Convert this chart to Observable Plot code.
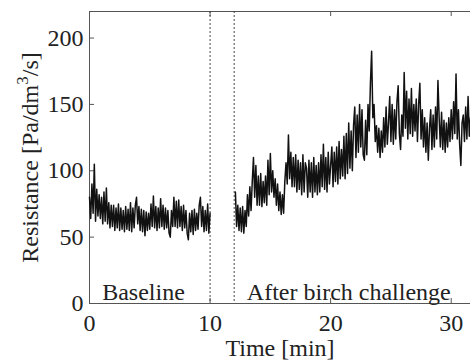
<!DOCTYPE html>
<html>
<head>
<meta charset="utf-8">
<script src="https://cdn.jsdelivr.net/npm/d3@7"></script>
<script src="https://cdn.jsdelivr.net/npm/@observablehq/plot@0.6"></script>
<style>
  html, body { margin: 0; padding: 0; background: #fff; }
  #chart { width: 470px; height: 360px; overflow: hidden; }
  #chart svg, #chart svg text { font-family: "Liberation Serif", "Times New Roman", serif !important; }
</style>
</head>
<body>
<div id="chart"></div>
<script>
// ---- data ----
const sampleStep = 0.1;            // minutes between samples
const baselineStart = 0;           // min
const challengeStart = 12.1;       // min
const markerTimes = [10, 12];      // dashed separators (min)
const xTicks = [0, 10, 20, 30];
const yTicks = [0, 50, 100, 150, 200];
const xDomain = [0, 31.6];
const yDomain = [0, 220];
const segmentLabels = ["Baseline", "After birch challenge"];
const segmentLabelX = [1.05, 13.05];
const segmentLabelY = [3, 3];

// Resistance [Pa/dm3/s], baseline period 0–10 min
const baselineValues = [
  80, 64, 90, 68, 105, 62, 86, 66, 82, 64,
  80, 60, 84, 62, 87, 60, 76, 57, 74, 58,
  74, 55, 72, 57, 75, 55, 72, 56, 70, 54,
  73, 56, 71, 55, 76, 54, 72, 57, 74, 80,
  60, 73, 55, 71, 54, 70, 51, 69, 55, 68,
  56, 75, 58, 81, 57, 73, 55, 72, 57, 79,
  58, 74, 56, 72, 57, 70, 53, 50, 70, 58,
  80, 58, 77, 57, 78, 58, 73, 55, 74, 57,
  70, 53, 48, 68, 54, 70, 52, 71, 55, 68,
  56, 74, 80, 58, 73, 54, 70, 55, 75, 53,
  68
];

// Resistance [Pa/dm3/s], after birch challenge 12.1–31.6 min
const challengeValues = [
  84, 58, 74, 55, 72, 54, 73, 53, 70,
  58, 82, 66, 88, 70, 92, 110, 80, 104, 74,
  96, 74, 98, 73, 92, 76, 96, 74, 108, 82,
  113, 84, 100, 80, 94, 74, 90, 70, 84, 67,
  82, 68, 92, 106, 90, 127, 94, 114, 88, 110,
  88, 112, 84, 108, 86, 106, 82, 112, 84, 106,
  102, 80, 108, 84, 106, 80, 110, 84, 104, 82,
  106, 84, 112, 88, 120, 86, 110, 84, 114, 90,
  104, 118, 88, 114, 92, 118, 90, 122, 94, 116,
  96, 126, 94, 128, 98, 136, 102, 130, 100, 134,
  148, 110, 142, 114, 150, 118, 146, 112, 108, 138,
  112, 150, 130, 166, 190, 140, 150, 122, 134, 114,
  132, 110, 130, 114, 140, 118, 148, 120, 136, 156,
  122, 150, 120, 146, 124, 152, 164, 128, 116, 142,
  126, 174, 132, 160, 124, 154, 128, 162, 126, 150,
  130, 154, 122, 150, 166, 124, 146, 118, 140, 114,
  136, 108, 132, 146, 116, 142, 118, 148, 124, 168,
  140, 118, 144, 116, 138, 114, 136, 118, 140, 122,
  146, 124, 152, 128, 173, 124, 146, 120, 104, 136,
  142, 122, 148, 124, 156, 126, 140
];

// ---- build table ----
const rows = [];
baselineValues.forEach((v, i) => rows.push({t: Math.round((baselineStart + i * sampleStep) * 100) / 100, r: v, seg: "baseline"}));
challengeValues.forEach((v, i) => rows.push({t: Math.round((challengeStart + i * sampleStep) * 100) / 100, r: v, seg: "challenge"}));

const labels = segmentLabels.map((s, i) => ({s, x: segmentLabelX[i], y: segmentLabelY[i]}));

const font = "Liberation Serif, Times New Roman, serif";
const frameColor = "#555";
const tickLenX = 0.42;   // in x units (~5px)
const tickLenY = 3.8;    // in y units (~5px)

const chart = Plot.plot({
  width: 470,
  height: 360,
  marginLeft: 89,
  marginRight: 0,
  marginTop: 11,
  marginBottom: 57,
  style: {fontFamily: font, fontSize: "24px", color: "#222", background: "#fff"},
  x: {domain: xDomain},
  y: {domain: yDomain},
  marks: [
    // frame (left, bottom, top)
    Plot.ruleX([xDomain[0]], {stroke: frameColor, strokeWidth: 1}),
    Plot.ruleY([yDomain[0]], {stroke: frameColor, strokeWidth: 1}),
    Plot.ruleY([yDomain[1]], {stroke: frameColor, strokeWidth: 1}),
    // inward ticks
    Plot.ruleX(xTicks.slice(1), {y1: yDomain[0], y2: yDomain[0] + tickLenY, stroke: frameColor}),
    Plot.ruleX(xTicks.slice(1), {y1: yDomain[1], y2: yDomain[1] - tickLenY, stroke: frameColor}),
    Plot.ruleY(yTicks.slice(1), {x1: xDomain[0], x2: xDomain[0] + tickLenX, stroke: frameColor}),
    // separators
    Plot.ruleX(markerTimes, {stroke: "#333", strokeWidth: 0.9, strokeDasharray: "2,2"}),
    // data
    Plot.line(rows, {x: "t", y: "r", z: "seg", stroke: "#111", strokeWidth: 1.5}),
    // segment labels
    Plot.text(labels, {x: "x", y: "y", text: "s", textAnchor: "start", lineAnchor: "bottom", fontSize: 24, fill: "#222"}),
    // axes
    Plot.axisY({ticks: yTicks, tickSize: 0, tickPadding: 6, fontSize: 24, label: "Resistance [Pa/dm3/s]", labelAnchor: "center", labelArrow: "none", labelOffset: 69}),
    Plot.axisX({ticks: xTicks, tickSize: 0, tickPadding: 10, fontSize: 24, label: "Time [min]", labelAnchor: "center", labelArrow: "none", labelOffset: 52})
  ]
});

document.getElementById("chart").appendChild(chart);

// superscript 3 in the y label
d3.select(chart).selectAll("text").each(function() {
  const el = d3.select(this);
  if (el.text() === "Resistance [Pa/dm3/s]") {
    el.text(null);
    el.append("tspan").text("Resistance [Pa/dm");
    el.append("tspan").attr("font-size", "17px").attr("dy", "-0.55em").text("3");
    el.append("tspan").attr("dy", "0.4em").text("/s]");
  }
});
</script>
</body>
</html>
